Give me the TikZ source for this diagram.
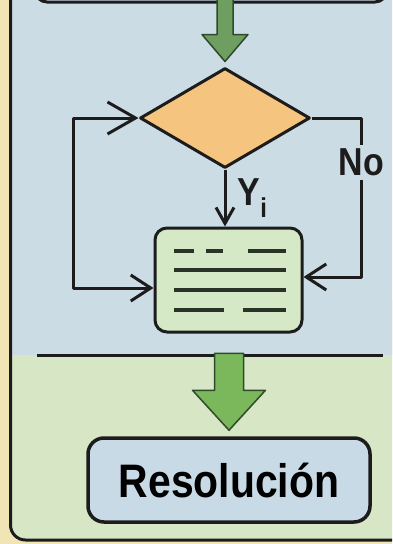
\documentclass[tikz,border=0pt]{standalone}
\usepackage{fontspec}
\setmainfont{Liberation Sans}
\newfontfamily\condfont[FakeStretch=0.87]{Liberation Sans}
\usetikzlibrary{shapes.geometric,arrows.meta,calc}

\definecolor{cream}{HTML}{F2E5B5}
\definecolor{bluebg}{HTML}{CCDCE5}
\definecolor{greenbg}{HTML}{D7E6C5}
\definecolor{inkc}{HTML}{1C1C1C}
\definecolor{condfill}{HTML}{F5C47E}
\definecolor{procfill}{HTML}{D5E9C7}
\definecolor{resfill}{HTML}{C8DAE6}
\definecolor{linegrey}{HTML}{2A3328}
\definecolor{arrowdark}{HTML}{6E9F60}
\definecolor{arrowlight}{HTML}{7AB85B}
\definecolor{arrowedge}{HTML}{2F4A2A}

\tikzset{
  frame/.style={draw=inkc, line width=3pt},
  topbox/.style={rectangle, rounded corners=12pt, draw=inkc, fill=resfill,
    line width=3pt, minimum width=352pt, minimum height=44pt},
  cond/.style={diamond, draw=inkc, fill=condfill, line width=3pt, inner sep=0pt,
    minimum width=170pt, minimum height=100pt},
  proc/.style={rectangle, rounded corners=12pt, draw=inkc, fill=procfill,
    line width=3pt, minimum width=147pt, minimum height=104pt},
  res/.style={rectangle, rounded corners=16pt, draw=inkc, fill=resfill,
    line width=3.5pt, minimum width=282pt, minimum height=84pt},
  conn/.style={draw=inkc, line width=3pt},
  txtline/.style={draw=linegrey, line width=3.5pt},
  fatarrow/.style={draw=arrowedge, line width=1.5pt},
  lbl/.style={font=\condfont\bfseries\fontsize{39}{40}\selectfont, text=inkc}
}

\begin{document}
\begin{tikzpicture}[x=1pt,y=-1pt,line join=round]

  \useasboundingbox (0,0) rectangle (392,544);
  \clip (0,0) rectangle (392,544);

  % background and frame
  \fill[cream] (0,0) rectangle (392,544);
  \fill[greenbg, rounded corners=15pt] (10.5,300) rectangle (420,540);
  \fill[bluebg] (10.5,-10) rectangle (420,355);
  \draw[frame, rounded corners=15pt] (10.5,-20) -- (10.5,540) -- (420,540);
  \draw[frame] (37,355) -- (383,355);

  % nodes
  \node[topbox] (top)  at (211,-20)   {};
  \node[cond]   (cond) at (225,118)   {};
  \node[proc]   (proc) at (228.5,280) {};
  \node[res]    (res)  at (229,480)
    {\condfont\bfseries\fontsize{47}{50}\selectfont Resolución};

  % lines of text in the process box
  \foreach \y/\a/\b in {-29/-55/-35, -29/-23/-6, -29/19/57,
                        -10/-55/57, 10/-55/57,
                        30/-55/-5, 30/14/57}
    \draw[txtline] ($(proc)+(\a,\y)$) -- ($(proc)+(\b,\y)$);

  % block arrows
  \begin{scope}[shift={($(cond.north)+(0,-5)$)}]
    \draw[fatarrow, fill=arrowdark] (-8,-75) -- (-8,-27) -- (-23,-27) -- (0,0)
      -- (23,-27) -- (8,-27) -- (8,-75) -- cycle;
  \end{scope}
  \begin{scope}[shift={($(res.north)+(0,-6)$)}]
    \draw[fatarrow, fill=arrowlight] (-14.5,-77) -- (-14.5,-40) -- (-36.5,-40) -- (0,0)
      -- (36.5,-40) -- (14.5,-40) -- (14.5,-77) -- cycle;
  \end{scope}

  % connectors
  \begin{scope}[every node/.style={lbl}]
    \draw[conn, arrows={Straight Barb[length=28pt,width=32pt]-Straight Barb[length=20pt,width=26pt]}]
      (cond.west) -- ++(-65,0) |- ($(proc.west)+(0,8)$);
    \draw[conn, arrows={-Straight Barb[length=20pt,width=26pt]}]
      (cond.east) -- ++(50,0) |- node[pos=0.14, fill=bluebg, inner sep=4pt] {No}
      ($(proc.east)+(0,-3)$);
    \draw[conn, arrows={-Straight Barb[length=16pt,width=18pt]}]
      (cond.south) -- node[pos=0.5, right=8pt] {Y\textsubscript{i}}
      (cond.south |- proc.north);
  \end{scope}

\end{tikzpicture}
\end{document}
